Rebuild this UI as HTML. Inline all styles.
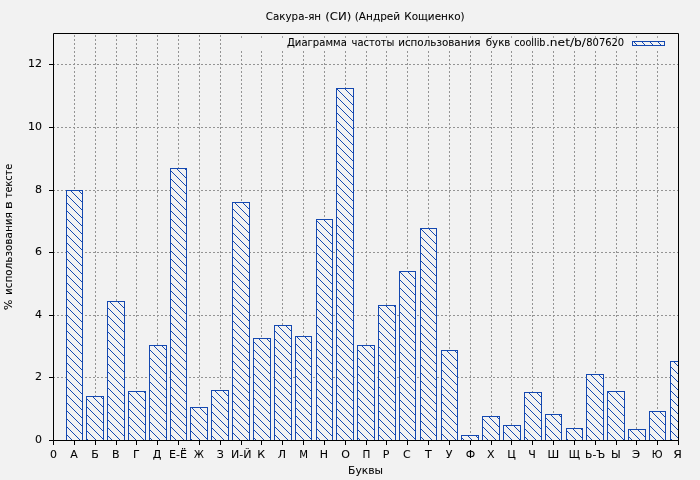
<!DOCTYPE html>
<html lang="ru"><head><meta charset="utf-8"><title>Сакура-ян (СИ) (Андрей Кощиенко)</title>
<style>html,body{margin:0;padding:0;background:#f2f2f2;}svg{display:block}</style></head>
<body>
<svg width="700" height="480" viewBox="0 0 700 480">
<defs><pattern id="h" x="0" y="0" width="8" height="8" patternUnits="userSpaceOnUse"><rect width="8" height="8" fill="#f2f2f2"/><path d="M-1,-9 L9,1 M-1,-1 L9,9" stroke="#1448b0" stroke-width="1" fill="none"/></pattern>
<clipPath id="c"><rect x="53.5" y="33.5" width="625.5" height="407.0"/></clipPath></defs>
<rect width="700" height="480" fill="#f2f2f2"/>
<path d="M74.5,441.0 V34.0 M95.5,441.0 V34.0 M116.5,441.0 V34.0 M136.5,441.0 V34.0 M157.5,441.0 V34.0 M178.5,441.0 V34.0 M199.5,441.0 V34.0 M220.5,441.0 V34.0 M241.5,441.0 V34.0 M261.5,441.0 V34.0 M282.5,441.0 V34.0 M303.5,441.0 V34.0 M324.5,441.0 V34.0 M345.5,441.0 V34.0 M366.5,441.0 V34.0 M386.5,441.0 V34.0 M407.5,441.0 V34.0 M428.5,441.0 V34.0 M449.5,441.0 V34.0 M470.5,441.0 V34.0 M491.5,441.0 V34.0 M511.5,441.0 V34.0 M532.5,441.0 V34.0 M553.5,441.0 V34.0 M574.5,441.0 V34.0 M595.5,441.0 V34.0 M616.5,441.0 V34.0 M636.5,441.0 V34.0 M657.5,441.0 V34.0 M53.0,377.5 H678.5 M53.0,315.5 H678.5 M53.0,252.5 H678.5 M53.0,190.5 H678.5 M53.0,127.5 H678.5 M53.0,64.5 H678.5" stroke="#949494" stroke-width="1" stroke-dasharray="2 2" fill="none"/>
<rect x="230" y="34" width="448" height="16.5" fill="#f2f2f2"/>
<path d="M241.5,36 V38 M261.5,36 V38 M282.5,36 V38 M303.5,36 V38 M324.5,36 V38 M345.5,36 V38 M366.5,36 V38 M386.5,36 V38 M407.5,36 V38 M428.5,36 V38 M449.5,36 V38 M470.5,36 V38 M491.5,36 V38 M511.5,36 V38 M532.5,36 V38 M553.5,36 V38 M574.5,36 V38 M595.5,36 V38 M616.5,36 V38 M636.5,36 V38 M657.5,36 V38" stroke="#a4a4a4" stroke-width="1" fill="none"/>
<g clip-path="url(#c)">
<rect x="66.5" y="190.5" width="16.0" height="250.0" fill="url(#h)" stroke="#1448b0" stroke-width="1"/>
<rect x="86.5" y="396.5" width="17.0" height="44.0" fill="url(#h)" stroke="#1448b0" stroke-width="1"/>
<rect x="107.5" y="301.5" width="17.0" height="139.0" fill="url(#h)" stroke="#1448b0" stroke-width="1"/>
<rect x="128.5" y="391.5" width="17.0" height="49.0" fill="url(#h)" stroke="#1448b0" stroke-width="1"/>
<rect x="149.5" y="345.5" width="17.0" height="95.0" fill="url(#h)" stroke="#1448b0" stroke-width="1"/>
<rect x="170.5" y="168.5" width="16.0" height="272.0" fill="url(#h)" stroke="#1448b0" stroke-width="1"/>
<rect x="190.5" y="407.5" width="17.0" height="33.0" fill="url(#h)" stroke="#1448b0" stroke-width="1"/>
<rect x="211.5" y="390.5" width="17.0" height="50.0" fill="url(#h)" stroke="#1448b0" stroke-width="1"/>
<rect x="232.5" y="202.5" width="17.0" height="238.0" fill="url(#h)" stroke="#1448b0" stroke-width="1"/>
<rect x="253.5" y="338.5" width="17.0" height="102.0" fill="url(#h)" stroke="#1448b0" stroke-width="1"/>
<rect x="274.5" y="325.5" width="17.0" height="115.0" fill="url(#h)" stroke="#1448b0" stroke-width="1"/>
<rect x="295.5" y="336.5" width="16.0" height="104.0" fill="url(#h)" stroke="#1448b0" stroke-width="1"/>
<rect x="316.5" y="219.5" width="16.0" height="221.0" fill="url(#h)" stroke="#1448b0" stroke-width="1"/>
<rect x="336.5" y="88.5" width="17.0" height="352.0" fill="url(#h)" stroke="#1448b0" stroke-width="1"/>
<rect x="357.5" y="345.5" width="17.0" height="95.0" fill="url(#h)" stroke="#1448b0" stroke-width="1"/>
<rect x="378.5" y="305.5" width="17.0" height="135.0" fill="url(#h)" stroke="#1448b0" stroke-width="1"/>
<rect x="399.5" y="271.5" width="16.0" height="169.0" fill="url(#h)" stroke="#1448b0" stroke-width="1"/>
<rect x="420.5" y="228.5" width="16.0" height="212.0" fill="url(#h)" stroke="#1448b0" stroke-width="1"/>
<rect x="441.5" y="350.5" width="16.0" height="90.0" fill="url(#h)" stroke="#1448b0" stroke-width="1"/>
<rect x="461.5" y="435.5" width="17.0" height="5.0" fill="url(#h)" stroke="#1448b0" stroke-width="1"/>
<rect x="482.5" y="416.5" width="17.0" height="24.0" fill="url(#h)" stroke="#1448b0" stroke-width="1"/>
<rect x="503.5" y="425.5" width="17.0" height="15.0" fill="url(#h)" stroke="#1448b0" stroke-width="1"/>
<rect x="524.5" y="392.5" width="17.0" height="48.0" fill="url(#h)" stroke="#1448b0" stroke-width="1"/>
<rect x="545.5" y="414.5" width="16.0" height="26.0" fill="url(#h)" stroke="#1448b0" stroke-width="1"/>
<rect x="566.5" y="428.5" width="16.0" height="12.0" fill="url(#h)" stroke="#1448b0" stroke-width="1"/>
<rect x="586.5" y="374.5" width="17.0" height="66.0" fill="url(#h)" stroke="#1448b0" stroke-width="1"/>
<rect x="607.5" y="391.5" width="17.0" height="49.0" fill="url(#h)" stroke="#1448b0" stroke-width="1"/>
<rect x="628.5" y="429.5" width="17.0" height="11.0" fill="url(#h)" stroke="#1448b0" stroke-width="1"/>
<rect x="649.5" y="411.5" width="16.0" height="29.0" fill="url(#h)" stroke="#1448b0" stroke-width="1"/>
<rect x="670.5" y="361.5" width="16.0" height="79.0" fill="url(#h)" stroke="#1448b0" stroke-width="1"/>
</g>
<rect x="632.5" y="41.5" width="32" height="4" fill="url(#h)" stroke="#1448b0" stroke-width="1"/>
<path d="M53.5,33.5 H678.5 V440.5 H53.5 Z M53.5,440.5 V445.0 M74.5,440.5 V445.0 M95.5,440.5 V445.0 M116.5,440.5 V445.0 M136.5,440.5 V445.0 M157.5,440.5 V445.0 M178.5,440.5 V445.0 M199.5,440.5 V445.0 M220.5,440.5 V445.0 M241.5,440.5 V445.0 M261.5,440.5 V445.0 M282.5,440.5 V445.0 M303.5,440.5 V445.0 M324.5,440.5 V445.0 M345.5,440.5 V445.0 M366.5,440.5 V445.0 M386.5,440.5 V445.0 M407.5,440.5 V445.0 M428.5,440.5 V445.0 M449.5,440.5 V445.0 M470.5,440.5 V445.0 M491.5,440.5 V445.0 M511.5,440.5 V445.0 M532.5,440.5 V445.0 M553.5,440.5 V445.0 M574.5,440.5 V445.0 M595.5,440.5 V445.0 M616.5,440.5 V445.0 M636.5,440.5 V445.0 M657.5,440.5 V445.0 M678.5,440.5 V445.0 M53.5,440.5 H49.0 M53.5,377.5 H49.0 M53.5,315.5 H49.0 M53.5,252.5 H49.0 M53.5,190.5 H49.0 M53.5,127.5 H49.0 M53.5,64.5 H49.0" stroke="#000" stroke-width="1" fill="none"/>
<g font-family="'DejaVu Sans','Liberation Sans',sans-serif" font-size="11" fill="#000" stroke="#000" stroke-width="0.06">
<text y="19.6" xml:space="preserve"><tspan x="265.80" textLength="55.27" lengthAdjust="spacingAndGlyphs">Сакура-ян</tspan> <tspan x="325.23" textLength="26.10" lengthAdjust="spacingAndGlyphs">(СИ)</tspan> <tspan x="354.74" textLength="45.45" lengthAdjust="spacingAndGlyphs">(Андрей</tspan> <tspan x="404.25" textLength="60.40" lengthAdjust="spacingAndGlyphs">Кощиенко)</tspan></text>
<text y="45.7" xml:space="preserve"><tspan x="287.00" textLength="59.80" lengthAdjust="spacingAndGlyphs">Диаграмма</tspan> <tspan x="351.50" textLength="42.98" lengthAdjust="spacingAndGlyphs">частоты</tspan> <tspan x="398.16" textLength="82.22" lengthAdjust="spacingAndGlyphs">использования</tspan> <tspan x="485.80" textLength="24.59" lengthAdjust="spacingAndGlyphs">букв</tspan> <tspan x="514.20" textLength="31.29" lengthAdjust="spacingAndGlyphs">coollib</tspan><tspan x="545.99" textLength="39.96" lengthAdjust="spacingAndGlyphs">.net/b/</tspan><tspan x="586.30" textLength="37.90" lengthAdjust="spacingAndGlyphs">807620</tspan></text>
<text y="473.7" xml:space="preserve"><tspan x="348.02" textLength="35.03" lengthAdjust="spacingAndGlyphs">Буквы</tspan></text>
<text transform="translate(11.6,310) rotate(-90)" y="0" xml:space="preserve"><tspan x="0.00" textLength="10.45" lengthAdjust="spacingAndGlyphs">%</tspan> <tspan x="14.95" textLength="82.83" lengthAdjust="spacingAndGlyphs">использования</tspan> <tspan x="100.66" textLength="8.04" lengthAdjust="spacingAndGlyphs">в</tspan> <tspan x="112.00" textLength="34.14" lengthAdjust="spacingAndGlyphs">тексте</tspan></text>
<text x="50.00" y="457.7" textLength="7.00" lengthAdjust="spacingAndGlyphs">0</text>
<text x="70.33" y="457.7" textLength="7.53" lengthAdjust="spacingAndGlyphs">А</text>
<text x="91.17" y="457.7" textLength="7.55" lengthAdjust="spacingAndGlyphs">Б</text>
<text x="112.00" y="457.7" textLength="7.55" lengthAdjust="spacingAndGlyphs">В</text>
<text x="132.93" y="457.7" textLength="6.72" lengthAdjust="spacingAndGlyphs">Г</text>
<text x="152.67" y="457.7" textLength="8.59" lengthAdjust="spacingAndGlyphs">Д</text>
<text x="169.00" y="457.7" textLength="17.88" lengthAdjust="spacingAndGlyphs">Е-Ё</text>
<text x="194.10" y="457.7" textLength="9.78" lengthAdjust="spacingAndGlyphs">Ж</text>
<text x="216.67" y="457.7" textLength="7.06" lengthAdjust="spacingAndGlyphs">З</text>
<text x="231.10" y="457.7" textLength="20.44" lengthAdjust="spacingAndGlyphs">И-Й</text>
<text x="257.33" y="457.7" textLength="7.81" lengthAdjust="spacingAndGlyphs">К</text>
<text x="277.67" y="457.7" textLength="8.28" lengthAdjust="spacingAndGlyphs">Л</text>
<text x="299.20" y="457.7" textLength="8.74" lengthAdjust="spacingAndGlyphs">М</text>
<text x="319.83" y="457.7" textLength="8.28" lengthAdjust="spacingAndGlyphs">Н</text>
<text x="341.17" y="457.7" textLength="8.67" lengthAdjust="spacingAndGlyphs">О</text>
<text x="362.53" y="457.7" textLength="7.87" lengthAdjust="spacingAndGlyphs">П</text>
<text x="382.83" y="457.7" textLength="6.64" lengthAdjust="spacingAndGlyphs">Р</text>
<text x="402.97" y="457.7" textLength="7.69" lengthAdjust="spacingAndGlyphs">С</text>
<text x="425.00" y="457.7" textLength="6.73" lengthAdjust="spacingAndGlyphs">Т</text>
<text x="445.83" y="457.7" textLength="6.70" lengthAdjust="spacingAndGlyphs">У</text>
<text x="465.67" y="457.7" textLength="9.48" lengthAdjust="spacingAndGlyphs">Ф</text>
<text x="487.10" y="457.7" textLength="7.55" lengthAdjust="spacingAndGlyphs">Х</text>
<text x="507.33" y="457.7" textLength="8.55" lengthAdjust="spacingAndGlyphs">Ц</text>
<text x="528.27" y="457.7" textLength="7.55" lengthAdjust="spacingAndGlyphs">Ч</text>
<text x="547.61" y="457.7" textLength="11.65" lengthAdjust="spacingAndGlyphs">Ш</text>
<text x="568.86" y="457.7" textLength="11.27" lengthAdjust="spacingAndGlyphs">Щ</text>
<text x="585.02" y="457.7" textLength="20.25" lengthAdjust="spacingAndGlyphs">Ь-Ъ</text>
<text x="611.00" y="457.7" textLength="9.72" lengthAdjust="spacingAndGlyphs">Ы</text>
<text x="631.90" y="457.7" textLength="8.13" lengthAdjust="spacingAndGlyphs">Э</text>
<text x="651.69" y="457.7" textLength="10.81" lengthAdjust="spacingAndGlyphs">Ю</text>
<text x="673.17" y="457.7" textLength="8.68" lengthAdjust="spacingAndGlyphs">Я</text>
<text x="35.00" y="442.8" textLength="7.00" lengthAdjust="spacingAndGlyphs">0</text>
<text x="35.00" y="379.8" textLength="7.00" lengthAdjust="spacingAndGlyphs">2</text>
<text x="35.00" y="317.8" textLength="7.00" lengthAdjust="spacingAndGlyphs">4</text>
<text x="35.00" y="254.8" textLength="7.00" lengthAdjust="spacingAndGlyphs">6</text>
<text x="35.00" y="192.8" textLength="7.00" lengthAdjust="spacingAndGlyphs">8</text>
<text x="28.00" y="129.8" textLength="14.00" lengthAdjust="spacingAndGlyphs">10</text>
<text x="28.00" y="66.8" textLength="14.00" lengthAdjust="spacingAndGlyphs">12</text>
</g>
</svg>
</body></html>
